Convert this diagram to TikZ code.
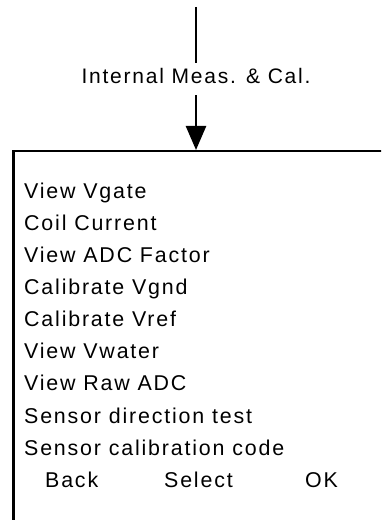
\documentclass[tikz,border=0pt]{standalone}
\usepackage{fontspec}
\setmainfont[LetterSpace=8.5]{Liberation Sans}
\usetikzlibrary{arrows.meta}
\tikzset{
  conn/.style={line width=2.5bp, draw=black},
  arr/.style={conn, -{Triangle[width=20bp,length=24bp]}},
  frame/.style={draw=black, line width=2.5bp},
  item/.style={anchor=base west, inner sep=0pt, font=\fontsize{21.4bp}{24bp}\selectfont},
  lbl/.style={anchor=base, inner sep=0pt, text height=15.5bp, text depth=0pt, font=\fontsize{21bp}{24bp}\selectfont}
}
\begin{document}
\begin{tikzpicture}[x=1bp,y=-1bp]
\useasboundingbox (0,0) rectangle (381,520);
\clip (0,0) rectangle (381,520);
\coordinate (src) at (196,7);
\node[lbl] (lab) at (196,84) {Internal Meas. \& Cal.};
\node[frame, anchor=north west, minimum width=500bp, minimum height=500bp] (menu) at (12,150) {};
\draw[conn] (src) -- ([yshift=5bp]lab.north);
\draw[arr] ([yshift=-11bp]lab.south) -- (lab.south |- menu.north);
\node[item] (m1) at (24,198.3) {View Vgate};
\node[item] (m2) at (24,230.4) {Coil Current};
\node[item] (m3) at (24,262.5) {View ADC Factor};
\node[item] (m4) at (24,294.6) {Calibrate Vgnd};
\node[item] (m5) at (24,326.7) {Calibrate Vref};
\node[item] (m6) at (24,358.8) {View Vwater};
\node[item] (m7) at (24,390.9) {View Raw ADC};
\node[item] (m8) at (24,423.0) {Sensor direction test};
\node[item] (m9) at (24,455.1) {Sensor calibration code};
\node[item] (b1) at (45,487.2) {Back};
\node[item] (b2) at (164,487.2) {Select};
\node[item] (b3) at (305,487.2) {OK};
\end{tikzpicture}
\end{document}
